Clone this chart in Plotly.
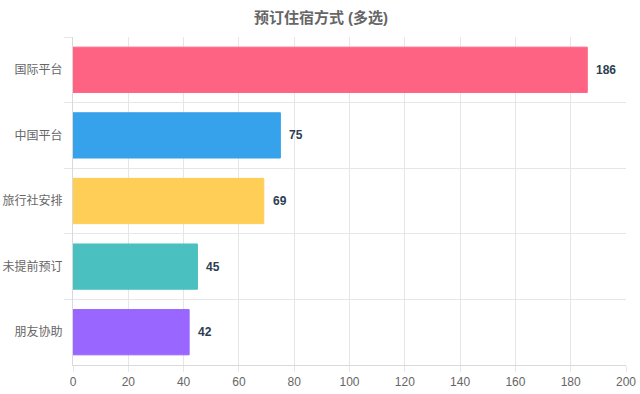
import plotly.graph_objects as go

categories = ["国际平台", "中国平台", "旅行社安排", "未提前预订", "朋友协助"]
values = [186, 75, 69, 45, 42]
colors = ["#FF6384", "#36A2EB", "#FFCE56", "#4BC0C0", "#9966FF"]
x_ticks = list(range(0, 201, 20))
title = "预订住宿方式 (多选)"

font_family = "Liberation Sans, Noto Sans CJK SC, sans-serif"

W, H = 640, 394

fig = go.Figure()
fig.add_trace(go.Bar(
    x=values,
    y=categories,
    orientation="h",
    marker=dict(color=colors, line=dict(color=colors, width=1)),
    hoverinfo="skip",
))

for c, v in zip(categories, values):
    fig.add_annotation(
        x=v, y=c, text=f"<b>{v}</b>", showarrow=False,
        xanchor="left", xshift=7,
        font=dict(size=12, color="#2c3e50", family=font_family),
    )

fig.update_layout(
    width=W, height=H,
    margin=dict(l=73, r=14, t=37, b=29, autoexpand=False),
    paper_bgcolor="white", plot_bgcolor="white",
    bargap=0.31,
    showlegend=False,
    title=dict(
        text=f"<b>{title}</b>", x=321 / W, xanchor="center",
        y=1 - 18 / H, yanchor="middle",
        font=dict(size=15, color="#666666", family=font_family),
        automargin=False,
    ),
    font=dict(family=font_family, size=12, color="#666666"),
)

fig.update_xaxes(
    range=[0, 200], tickvals=x_ticks, ticktext=[str(t) for t in x_ticks],
    showgrid=True, gridcolor="#e6e6e6", gridwidth=1,
    ticks="outside", ticklen=6, tickcolor="#e6e6e6",
    showline=True, linecolor="#d9d9d9", linewidth=1,
    zeroline=False, mirror=False, automargin=False,
    tickfont=dict(size=12, color="#666666"),
)
fig.update_yaxes(
    autorange="reversed", type="category",
    tickson="boundaries", showgrid=True, gridcolor="#e6e6e6", gridwidth=1,
    ticks="outside", ticklen=8, tickcolor="#e6e6e6",
    showline=True, linecolor="#d9d9d9", linewidth=1, automargin=False,
    tickfont=dict(size=12, color="#666666"),
    ticklabelstandoff=7,
)

fig.write_html(
    "out.html",
    config={"displayModeBar": False},
    post_script="document.body.style.margin='0';document.body.style.overflow='hidden';",
)
